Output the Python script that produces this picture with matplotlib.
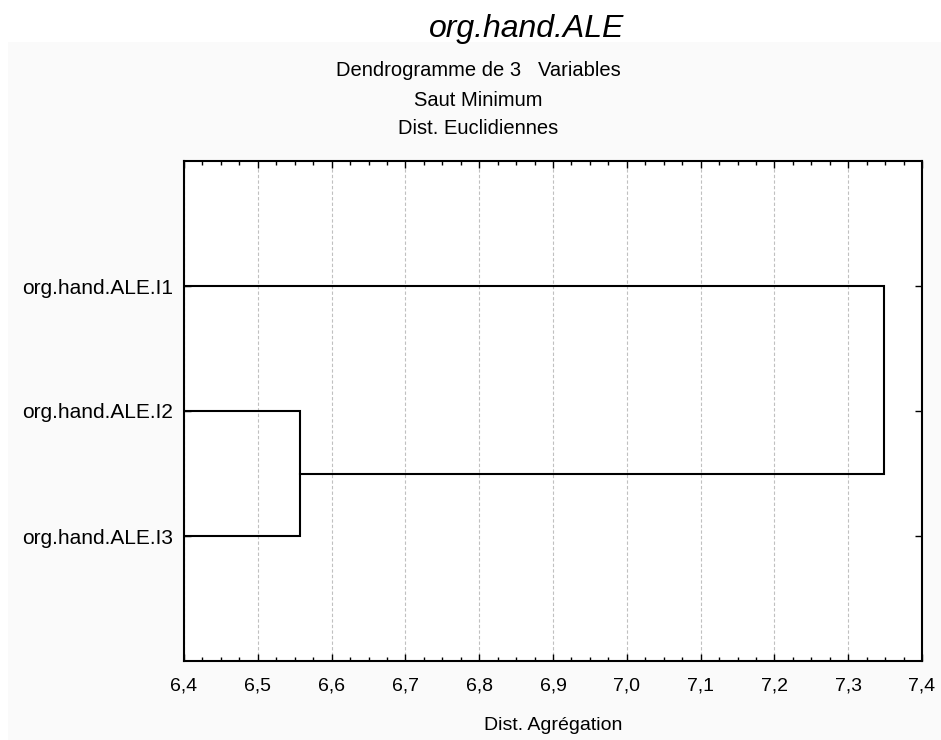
import matplotlib.pyplot as plt
from matplotlib.patches import Rectangle
from matplotlib.ticker import MultipleLocator, FuncFormatter

plt.rcParams['font.family'] = ['Liberation Sans', 'DejaVu Sans']

# leaves from top to bottom
leaves = ['org.hand.ALE.I1', 'org.hand.ALE.I2', 'org.hand.ALE.I3']
# linkage: (a, b, distance) - indices into leaves, cluster 3 = I2+I3
merges = [(1, 2, 6.557), (0, 3, 7.348)]
x_min, x_max = 6.4, 7.4

fig = plt.figure(figsize=(9.41, 7.40), dpi=100)
fig.patch.set_facecolor('white')
fig.patches.append(Rectangle((8 / 941, 0), 1, (740 - 42) / 740, transform=fig.transFigure,
                             facecolor='#fafafa', edgecolor='none', zorder=-10))

ax = fig.add_axes([184 / 941, 79 / 740, 738 / 941, 500 / 740])

# y positions of leaves: 1, 2, 3 (inverted axis)
pos = {i: i + 1 for i in range(len(leaves))}
height = {i: x_min for i in range(len(leaves))}
nid = len(leaves)
for a, b, d in merges:
    ya, yb = pos[a], pos[b]
    ax.plot([height[a], d, d, height[b]], [ya, ya, yb, yb], color='black', lw=1.5,
            solid_joinstyle='miter', zorder=3)
    pos[nid] = (ya + yb) / 2
    height[nid] = d
    nid += 1

ax.set_xlim(x_min, x_max)
ax.set_ylim(4, 0)
ax.set_yticks(range(1, len(leaves) + 1))
ax.set_yticklabels(leaves, fontsize=15)
ax.xaxis.set_major_locator(MultipleLocator(0.1))
ax.xaxis.set_minor_locator(MultipleLocator(0.025))
ax.xaxis.set_major_formatter(FuncFormatter(lambda v, p: f'{v:.1f}'.replace('.', ',')))
ax.tick_params(axis='x', labelsize=14, pad=12)
ax.tick_params(axis='both', which='both', direction='in', top=True, right=True,
               color='black', width=1)
ax.tick_params(which='major', length=5)
ax.tick_params(which='minor', length=3)
ax.tick_params(axis='y', pad=8)
ax.grid(axis='x', which='major', color='#c0c0c0', linestyle=(0, (3, 2)), lw=0.8)
for s in ax.spines.values():
    s.set_linewidth(1.5)

ax.set_xlabel('Dist. Agrégation', fontsize=14, labelpad=16)

fig.text(527 / 941, 1 - 29 / 740, 'org.hand.ALE', fontsize=23, style='italic',
         ha='center', va='center')
fig.text(478 / 941, 1 - 71 / 740, 'Dendrogramme de 3   Variables', fontsize=14.5,
         ha='center', va='center')
fig.text(478 / 941, 1 - 100 / 740, 'Saut Minimum', fontsize=14.5, ha='center', va='center')
fig.text(478 / 941, 1 - 128 / 740, 'Dist. Euclidiennes', fontsize=14.5, ha='center', va='center')

fig.savefig('out.png', dpi=100, facecolor=fig.get_facecolor())
